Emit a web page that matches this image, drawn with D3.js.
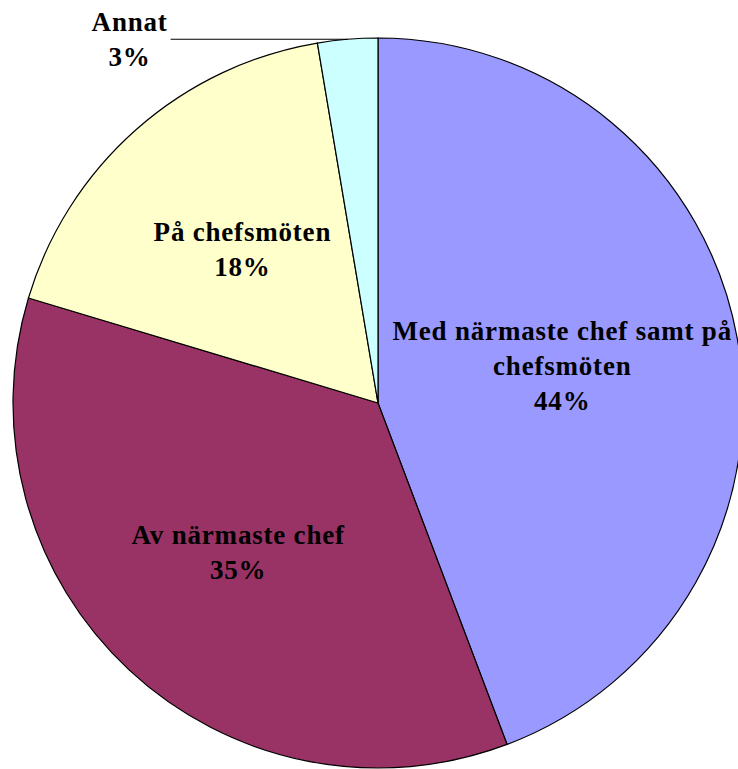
<!DOCTYPE html>
<html>
<meta charset="utf-8">
<style type="text/css">
	body { margin: 0; background: #fff; }
	svg { display: block; }
	.slice { stroke: #000; stroke-width: 1.2px; }
	.label text {
		font-family: 'Liberation Serif', 'DejaVu Serif', 'Noto Serif', Times, serif;
		font-weight: bold;
		font-size: 27px;
		letter-spacing: 0.8px;
		fill: #000;
		text-anchor: middle;
	}
	.leader { stroke: #000; stroke-width: 1.2px; fill: none; }
</style>
<body>
<svg width="738" height="769"></svg>
<script src="https://d3js.org/d3.v7.min.js"></script>
<script>
	// answers (counts), clockwise from 12 o'clock
	var categories = [
		['Med närmaste chef samt på', 'chefsmöten'],
		['Av närmaste chef'],
		['På chefsmöten'],
		['Annat']
	];
	var counts = [50, 40, 20, 3];
	var colors = ['#9999ff', '#993366', '#ffffcc', '#ccffff'];

	var svg = d3.select('svg'),
			width = +svg.attr('width'),
			cx = 378, cy = 403, R = 365,
			g = svg.append('g').attr('transform', 'translate(' + cx + ',' + cy + ')');

	var total = d3.sum(counts);
	var data = counts.map((v, i) => ({ name: categories[i], value: v, color: colors[i], pct: Math.round(v / total * 100) }));

	var pie = d3.pie().sort(null).value(d => d.value);
	var arc = d3.arc().innerRadius(0).outerRadius(R);
	var labelArc = d3.arc().innerRadius(205).outerRadius(205);

	var arcs = pie(data);

	g.selectAll('.slice')
		.data(arcs)
		.enter().append('path')
			.attr('class', 'slice')
			.attr('fill', d => d.data.color)
			.attr('d', arc);

	var lineH = 35;

	arcs.forEach((d, i) => {
		var lines = d.data.name.concat([d.data.pct + '%']);
		var lab = g.append('g').attr('class', 'label');
		var x, y;
		if (d.endAngle - d.startAngle < 0.2) {
			// small slice: outside label with a leader line
			var mid = (d.startAngle + d.endAngle) / 2;
			var px = Math.sin(mid) * R, py = -Math.cos(mid) * R;
			var ex = px - 177;
			g.append('path').attr('class', 'leader')
				.attr('d', 'M' + px + ',' + py + 'H' + ex);
			x = ex - 41;
			y = py;
		} else {
			var c = labelArc.centroid(d);
			x = c[0]; y = c[1];
		}
		var t = lab.selectAll('text')
			.data(lines)
			.enter().append('text')
				.attr('x', x)
				.attr('y', (s, j) => y + (j - (lines.length - 1) / 2) * lineH + 9)
				.text(s => s);
		// keep the label inside the picture
		var bb = lab.node().getBBox();
		var over = (cx + bb.x + bb.width) - (width - 6);
		if (over > 0) t.attr('x', x - over);
	});
</script>
</body>
</html>
